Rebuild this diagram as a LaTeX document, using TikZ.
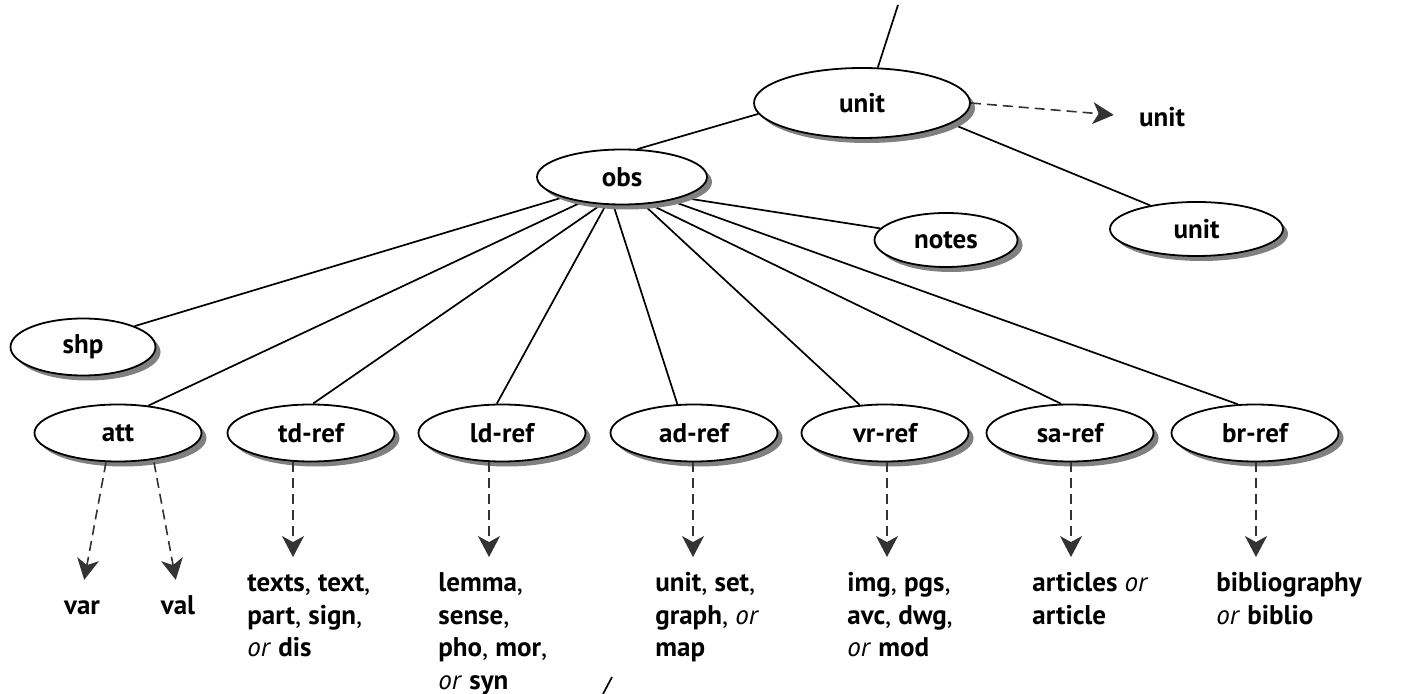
\documentclass[tikz,border=0pt]{standalone}
\usepackage{fontspec}
\setmainfont{PT Sans}
\usetikzlibrary{shapes.geometric,shadows,arrows.meta,backgrounds}

% multi-line leaf label whose baseline is that of its first line
\newcommand\leafbox[1]{\begin{tabular}[t]{@{}l@{}}#1\end{tabular}}

\tikzset{
  oval/.style={ellipse, draw=black, line width=0.9pt, fill=white, inner sep=0pt,
    font=\fontsize{13.5}{16.25}\selectfont\bfseries,
    drop shadow={shadow xshift=2.5pt, shadow yshift=-2.5pt, fill=black!50, opacity=1}},
  child/.style={oval, minimum width=83.5pt, minimum height=28.5pt},
  link/.style={line width=0.85pt, draw=black},
  refarrow/.style={dash pattern=on 5pt off 3pt, line width=0.8pt, draw=black!80,
    -{Stealth[length=10.5pt, width=11pt, inset=3pt]}},
  leaf/.style={inner sep=0pt, anchor=base west, font=\fontsize{13.5}{16.25}\selectfont},
}

\begin{document}
\begin{tikzpicture}[x=0.5pt, y=-0.5pt]
\useasboundingbox (0,0) rectangle (1403,694);

% element nodes
\node[oval, minimum width=108pt, minimum height=35pt] (unitA) at (862,103) {unit};
\node[oval, minimum width=85pt, minimum height=27.5pt] (obs) at (622,177) {obs};
\node[oval, minimum width=71.5pt, minimum height=27pt] (notes) at (946,240) {notes};
\node[oval, minimum width=86.5pt, minimum height=27pt] (unitB) at (1196.5,229) {unit};
\node[oval, minimum width=72.5pt, minimum height=28.5pt] (shp) at (83,347) {shp};

\node[child] (att) at (118,433) {att};
\node[child] (td)  at (311,433) {td-ref};
\node[child] (ld)  at (502,433) {ld-ref};
\node[child] (ad)  at (694,433) {ad-ref};
\node[child] (vr)  at (885,433) {vr-ref};
\node[child] (sa)  at (1070,433) {sa-ref};
\node[child] (br)  at (1255,433) {br-ref};

% referenced targets
\node[inner sep=0pt, font=\fontsize{13.5}{16.25}\selectfont\bfseries] (unitC) at (1162,117) {unit};
\node[leaf, anchor=base] (var) at (82,615) {\leafbox{\textbf{var}}};
\node[leaf, anchor=base] (val) at (178,615) {\leafbox{\textbf{val}}};
\node[leaf] (tdtxt) at (247,592) {\leafbox{\textbf{texts}, \textbf{text},\\ \textbf{part}, \textbf{sign},\\ \textit{or} \textbf{dis}}};
\node[leaf] (ldtxt) at (438,592) {\leafbox{\textbf{lemma},\\ \textbf{sense},\\ \textbf{pho}, \textbf{mor},\\ \textit{or} \textbf{syn}}};
\node[leaf] (adtxt) at (655,592) {\leafbox{\textbf{unit}, \textbf{set},\\ \textbf{graph}, \textit{or}\\ \textbf{map}}};
\node[leaf] (vrtxt) at (847,592) {\leafbox{\textbf{img}, \textbf{pgs},\\ \textbf{avc}, \textbf{dwg},\\ \textit{or} \textbf{mod}}};
\node[leaf] (satxt) at (1032,592) {\leafbox{\textbf{articles} \textit{or}\\ \textbf{article}}};
\node[leaf] (brtxt) at (1216,592) {\leafbox{\textbf{bibliography}\\ \textit{or} \textbf{biblio}}};

% loose ends of the tree
\coordinate (topend) at (898,5);
\coordinate (cutA) at (603,694);
\coordinate (cutB) at (612,677);

% tree edges, kept behind the ovals and their shadows
\begin{scope}[on background layer]
  \draw[link] (unitA.66) -- (topend);
  \draw[link] (unitA.186.6) -- (obs.61);
  \draw[link] (unitA.-13.6) -- (unitB.153.7);
  \draw[link] (obs.199.3) -- (shp.22.2);
  \draw[link] (obs.212.8) -- (att.42);
  \draw[link] (obs.233.2) -- (td.86);
  \draw[link] (obs.240.9) -- (ld.100);
  \draw[link] (obs.253.7) -- (ad.120);
  \draw[link] (obs.308.1) -- (vr.132.7);
  \draw[link] (obs.315.8) -- (sa.107.6);
  \draw[link] (obs.334.9) -- (br.121.5);
  \draw[link] (obs.341.1) -- (notes.170);
\end{scope}
\draw[link] (cutA) -- (cutB);

% references
\draw[refarrow, shorten >=12.5pt] (unitA.east) -- (unitC.west);
\draw[refarrow, shorten >=6.1pt] ([xshift=-6pt]att.south) -- (var.north);
\draw[refarrow, shorten >=6.1pt] ([xshift=18pt]att.south) -- (val.north);
\draw[refarrow, shorten >=5.9pt] ([xshift=-9pt]td.south) -- ([xshift=-9pt]td.south |- tdtxt.north);
\draw[refarrow, shorten >=5.9pt] ([xshift=-6.5pt]ld.south) -- ([xshift=-6.5pt]ld.south |- ldtxt.north);
\draw[refarrow, shorten >=5.9pt] ([xshift=-0.5pt]ad.south) -- ([xshift=-0.5pt]ad.south |- adtxt.north);
\draw[refarrow, shorten >=5.9pt] ([xshift=1pt]vr.south) -- ([xshift=1pt]vr.south |- vrtxt.north);
\draw[refarrow, shorten >=5.9pt] ([xshift=0.5pt]sa.south) -- ([xshift=0.5pt]sa.south |- satxt.north);
\draw[refarrow, shorten >=5.9pt] ([xshift=0.5pt]br.south) -- ([xshift=0.5pt]br.south |- brtxt.north);
\end{tikzpicture}
\end{document}
